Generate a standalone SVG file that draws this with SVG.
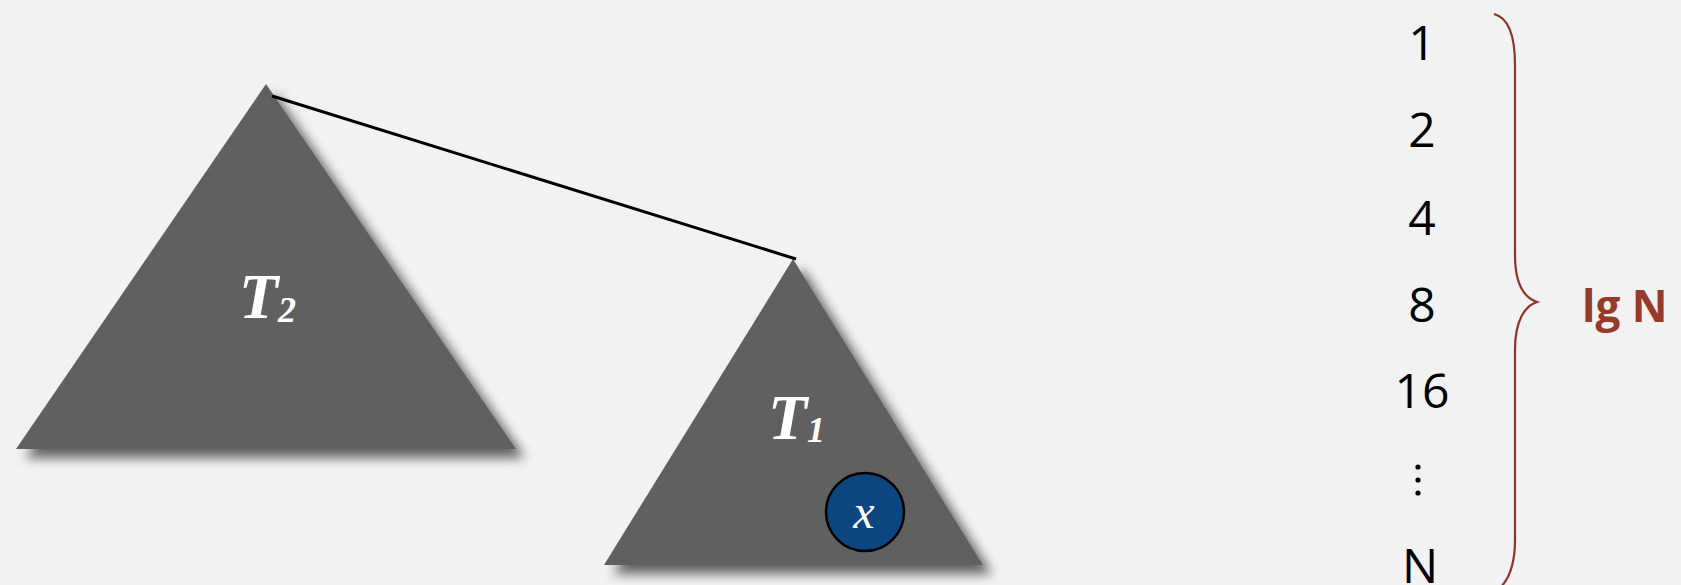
<svg xmlns="http://www.w3.org/2000/svg" width="1681" height="585" viewBox="0 0 1681 585">
<defs>
<filter id="sh" x="-20%" y="-20%" width="150%" height="150%">
<feGaussianBlur in="SourceAlpha" stdDeviation="6"/>
<feOffset dx="9" dy="9" result="b"/>
<feComponentTransfer><feFuncA type="linear" slope="0.6"/></feComponentTransfer>
<feMerge><feMergeNode/><feMergeNode in="SourceGraphic"/></feMerge>
</filter>
</defs>
<style>
.tri{fill:#606060;filter:url(#sh)}
.lbl{font-family:"Liberation Serif",serif;font-style:italic;font-weight:bold;fill:#fff}
.num{font-family:"Open Sans","DejaVu Sans",sans-serif;font-size:48px;fill:#000;text-anchor:middle}
.edge{stroke:#000;stroke-width:3;fill:none}
.brace{stroke:#8e3529;stroke-width:2.2;fill:none}
</style>
<rect width="1681" height="585" fill="#f2f2f2"/>
<g id="T2">
<polygon class="tri" points="266,84 16,449 516,449"/>
<text class="lbl" x="239" y="318" font-size="64">T<tspan font-size="36" dy="4">2</tspan></text>
</g>
<g id="T1">
<polygon class="tri" points="793,259 604,565 983,565"/>
<text class="lbl" x="768" y="439" font-size="64">T<tspan font-size="36" dy="3">1</tspan></text>
</g>
<g id="x">
<circle cx="865" cy="512" r="39" fill="#0b4680" stroke="#000" stroke-width="2.5"/>
<text x="864" y="528" font-family="Liberation Serif,serif" font-style="italic" font-size="48" fill="#fff" text-anchor="middle">x</text>
</g>
<g id="connectors">
<line class="edge" x1="272" y1="96" x2="796" y2="259"/>
</g>
<g id="scale">
<text class="num" x="1422" y="60">1</text>
<text class="num" x="1422" y="147">2</text>
<text class="num" x="1422" y="235">4</text>
<text class="num" x="1422" y="322">8</text>
<text class="num" x="1422" y="408">16</text>
<circle cx="1418" cy="467" r="2.6"/>
<circle cx="1418" cy="480" r="2.6"/>
<circle cx="1418" cy="493" r="2.6"/>
<text class="num" x="1420" y="583">N</text>
</g>
<g id="brace">
<path class="brace" d="M1494,14 C1510,18 1515,40 1515,65 L1515,255 C1515,285 1525,298 1537,302 C1525,306 1515,320 1515,350 L1515,540 C1515,565 1508,580 1500,588"/>
<text x="1582" y="322" font-family="Open Sans,DejaVu Sans,sans-serif" font-weight="bold" font-size="44" fill="#963a2a">lg N</text>
</g>
</svg>
